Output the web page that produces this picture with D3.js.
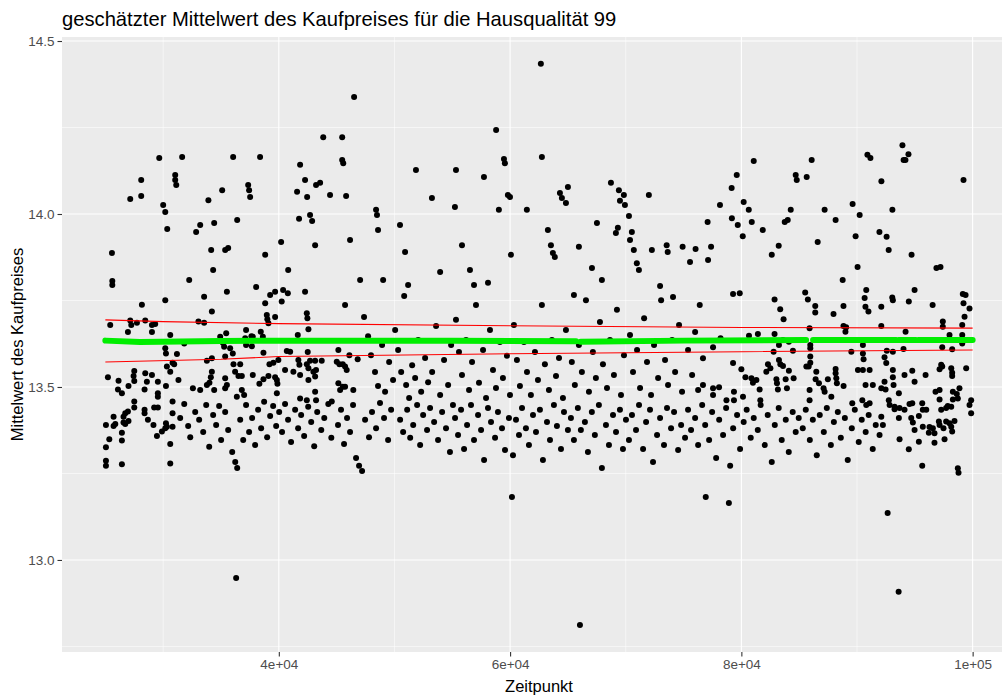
<!DOCTYPE html>
<html>
<head>
<meta charset="utf-8">
<script src="https://cdn.jsdelivr.net/npm/d3@7"></script>
<style>
  body { margin: 0; background: #fff; }
  svg { display: block; font-family: "Liberation Sans", Arial, sans-serif; }
</style>
</head>
<body>
<svg width="1002" height="698"></svg>
<script>
// Beobachtungen: [Zeitpunkt, Mittelwert]
var punkte = [
  [25570,13.887],[25600,13.806],[25600,13.795],
  [28160,13.738],[30180,13.751],[27150,13.692],[28450,13.692],[25420,13.679],[27240,13.679],[27730,13.686],
  [29030,13.679],[29310,13.682],[26950,13.659],[29030,13.659],[30610,13.650],[30180,13.612],[30240,13.597],
  [30810,13.570],[30320,13.559],[30610,13.544],[27500,13.546],[27440,13.532],[27500,13.517],[28450,13.540],
  [28590,13.515],[29030,13.535],[25220,13.528],[26140,13.518],[29540,13.515],[26090,13.493],[26430,13.482],
  [27000,13.503],[28390,13.493],[30240,13.503],[29540,13.482],[29540,13.472],[30810,13.458],[27500,13.458],
  [27500,13.441],[29220,13.441],[29540,13.441],[28390,13.434],[28390,13.424],[26720,13.424],[26950,13.429],
  [26570,13.414],[30810,13.424],[28680,13.405],[25710,13.414],[25050,13.390],[25860,13.393],[25710,13.387],
  [26720,13.393],[26570,13.397],[27000,13.402],[29160,13.390],[30240,13.395],[30320,13.385],[30180,13.381],
  [29890,13.371],[30810,13.385],[26430,13.368],[29460,13.358],[25340,13.349],[26430,13.345],[30610,13.335],
  [25050,13.326],[25050,13.287],[25050,13.272],[26430,13.277],[30610,13.279],
  [33540,13.761],[35510,13.775],[38820,13.742],[39680,13.775],[40780,13.771],[42270,13.775],[40250,13.747],
  [45730,13.737],[34210,13.718],[38960,13.708],[39010,13.696],[39100,13.684],[42420,13.713],[42470,13.699],
  [42560,13.667],[39680,13.702],[33050,13.689],[33540,13.686],[37170,13.665],[37630,13.647],[37750,13.645],
  [38440,13.660],[38620,13.645],[41640,13.650],[34930,13.645],[35450,13.655],[35160,13.628],[35270,13.616],
  [35790,13.612],[36020,13.597],[37090,13.641],[37170,13.621],[37670,13.618],[31190,13.595],[31820,13.626],
  [38670,13.599],[40690,13.604],[40980,13.602],[42500,13.601],[45150,13.607],[46100,13.592],[46820,13.580],
  [30950,13.566],[33780,13.576],[34210,13.583],[35360,13.588],[36080,13.566],[36660,13.566],[39190,13.566],
  [39530,13.570],[39960,13.578],[41690,13.578],[41780,13.564],[42420,13.566],[42700,13.576],[43140,13.576],
  [43710,13.576],[42560,13.554],[43220,13.549],[45240,13.566],[45530,13.566],[45730,13.559],[31320,13.520],
  [34210,13.544],[34120,13.528],[34000,13.512],[35360,13.525],[35510,13.506],[35360,13.496],[36220,13.544],
  [36510,13.532],[36800,13.532],[37750,13.535],[38670,13.522],[39100,13.532],[39680,13.528],[39830,13.520],
  [39880,13.509],[38320,13.509],[40540,13.549],[41260,13.544],[41840,13.535],[42560,13.520],[43140,13.530],
  [42990,13.544],[45010,13.573],[45150,13.511],[45530,13.501],[46440,13.491],[45870,13.549],[32570,13.496],
  [33200,13.491],[33780,13.506],[34410,13.491],[36800,13.491],[37000,13.477],[36370,13.472],[39830,13.482],
  [41840,13.467],[42420,13.462],[43140,13.486],[43220,13.462],[44580,13.458],[45300,13.491],[45730,13.501],
  [79280,13.769],[79860,13.771],[76400,13.737],[82870,13.753],[83360,13.725],[83650,13.696],[85520,13.773],
  [85750,13.753],[86390,13.734],[86390,13.715],[87970,13.711],[88830,13.734],[90730,13.732],[90990,13.718],
  [90800,13.780],[82870,13.653],[81430,13.653],[80660,13.648],[78200,13.641],[85900,13.670],[88830,13.676],
  [89060,13.673],[89000,13.660],[83250,13.621],[84110,13.631],[83600,13.636],[82790,13.602],[84460,13.605],
  [85960,13.621],[85960,13.612],[77550,13.615],[89510,13.602],[90510,13.621],[90510,13.597],[90570,13.580],
  [76680,13.583],[79280,13.569],[80000,13.551],[82300,13.566],[82510,13.554],[82160,13.544],[83250,13.578],
  [83370,13.566],[83600,13.561],[84110,13.547],[85960,13.588],[85960,13.570],[85620,13.559],[85820,13.559],
  [86480,13.544],[88150,13.552],[88150,13.540],[90080,13.549],[90510,13.549],[91090,13.549],[76680,13.506],
  [77550,13.496],[77550,13.477],[78070,13.499],[78710,13.462],[79360,13.486],[79360,13.462],[80350,13.528],
  [80870,13.525],[81000,13.512],[81300,13.520],[81580,13.493],[81640,13.462],[80140,13.472],[83030,13.522],
  [83080,13.511],[83160,13.493],[83830,13.522],[83940,13.496],[84520,13.525],[85900,13.491],[85900,13.462],
  [86420,13.522],[86710,13.511],[87110,13.496],[87200,13.486],[87480,13.522],[87780,13.472],[88210,13.525],
  [88260,13.511],[88840,13.503],[89590,13.453],[90460,13.462],[90740,13.506],[91370,13.506],[90800,13.448],
  [91090,13.453],[99150,13.769],[93050,13.759],
  [93100,13.751],[94480,13.747],[92100,13.732],[99210,13.742],[99730,13.727],[99300,13.703],[97420,13.689],
  [97420,13.674],[99100,13.679],[92100,13.676],[94200,13.660],[98000,13.650],[99100,13.650],[97370,13.615],
  [98230,13.609],[99100,13.626],[94020,13.610],[92580,13.605],[93100,13.602],[92380,13.586],[92530,13.569],
  [97280,13.564],[97140,13.551],[97370,13.559],[93100,13.549],[93100,13.528],[93160,13.506],[94110,13.535],
  [94780,13.547],[94980,13.515],[95930,13.535],[98150,13.554],[98230,13.541],[98230,13.532],[99440,13.554],
  [92380,13.515],[92100,13.496],[92470,13.493],[93620,13.482],[96790,13.486],[97140,13.491],[97140,13.464],
  [98290,13.486],[98630,13.480],[98860,13.496],[98290,13.464],[98720,13.467],[99870,13.462],[99730,13.448],
  [99870,13.424],[92750,13.462],[92820,13.448],[93250,13.443],[93250,13.436],[93680,13.439],[94110,13.434],
  [94540,13.451],[94780,13.453],[95640,13.453],[95690,13.434],[95990,13.434],[95350,13.416],[97280,13.434],
  [97710,13.439],[97850,13.445],[98150,13.443],[92100,13.414],[92240,13.390],[91950,13.361],[93620,13.410],
  [94690,13.410],[94830,13.397],[94980,13.376],[95690,13.385],[96270,13.384],[96560,13.381],[96210,13.368],
  [96700,13.366],[97080,13.400],[97140,13.390],[97710,13.400],[98000,13.395],[98150,13.385],[98230,13.371],
  [97480,13.381],[98430,13.402],[95350,13.342],[96700,13.339],[97570,13.349],[93680,13.349],[94480,13.320],
  [95640,13.272],[98720,13.265],[98780,13.252],
  [36310,12.948],[66040,12.812],[78920,13.165],[92650,13.136],[93600,12.908],[60160,13.182],[76920,13.182],
  [62660,14.434],[46510,14.338],[58790,14.243],[43840,14.222],[45480,14.222],
  [27150,14.043],[28100,14.098],[28100,14.052],[29660,14.162],[30000,14.026],[30180,14.006],[30350,13.957],
  [31040,14.113],[31040,14.098],[31130,14.084],[31640,14.165],[32850,13.948],[33200,13.968],[34150,13.896],
  [34410,13.974],[34320,13.838],[35100,14.069],[35360,13.896],[35620,13.902],[36050,14.165],[37350,14.084],
  [37430,14.069],[37520,14.049],[38380,14.165],[38820,13.882],[39250,13.766],[40370,13.780],[40810,13.838],
  [41840,14.142],[42270,14.098],[42450,14.049],[42700,13.997],[42880,13.980],[43140,13.910],[43220,14.084],
  [43570,14.090],[45820,14.052],[45480,14.156],[45570,14.147],[47030,13.809],[48410,14.012],[48490,13.997],
  [48580,13.954],[51860,14.127],[53240,14.046],[55320,14.127],[56530,13.838],[57740,14.107],[59030,14.012],
  [59470,14.159],[59550,14.147],[59810,14.055],[59990,14.049],[60070,13.882],[61450,14.012],[62750,14.165],
  [63270,13.954],[63700,13.887],[63870,13.876],[64310,14.061],[64480,14.046],[64830,14.032],[65000,14.078],
  [67080,13.844],[67510,13.974],[68720,14.090],[69410,14.069],[69840,14.055],[69930,14.026],[70280,13.994],
  [70530,13.948],[70700,13.896],[70960,13.858],[71140,13.838],[72000,14.055],[72260,13.896],[73540,13.910],
  [73630,13.890],[74920,13.905],[76040,13.899],[77080,13.977],[79160,14.075],[79600,14.113],[80200,14.035],
  [80640,14.012],[81070,14.153],[82630,13.882],[84010,13.983],[84700,14.113],[86080,14.156],[87200,14.012],
  [88150,13.983],[88760,13.809],[89880,13.936],[90230,13.997],[90900,14.171],[91160,14.162],[91940,13.948],
  [92110,14.095],[93060,14.012],[93930,14.199],[94190,14.156],[94450,14.173],[96870,13.844],[97220,13.847],
  [99210,14.098],
  [32250,13.809],[33910,14.040],[36400,13.983],[38040,13.789],[40200,13.919],[41580,14.064],[41750,13.986],
  [44430,14.055],[46160,13.925],[49020,13.809],[50480,13.968],[50920,13.890],[51180,13.795],[53950,13.832],
  [55230,14.020],[55840,13.910],[56880,13.795],[58090,13.801],[63530,13.910],[65520,13.766],[65950,13.905],
  [67940,13.809],[69150,13.945],[69320,13.960],[69500,14.038],[70370,13.925],[72970,13.792],[74090,13.760],
  [75560,13.861],[77120,13.867],[77380,13.905],[78150,14.026],[79180,13.988],[79690,13.968],[80120,13.936],
  [80900,13.977],[81850,13.954],[83230,13.908],[83750,13.977],[84270,14.012],[84790,14.098],[85650,14.107],
  [86600,13.919],[89620,14.029],[90050,13.847],[90660,13.757],[92560,13.934],[92740,13.896],[94030,14.156],
  [94720,13.882],[94980,13.780],[96540,13.737],[99390,13.766],
  [31470,13.410],[31820,13.451],[32160,13.387],[32340,13.355],[32770,13.428],[33110,13.405],[33460,13.370],
  [33720,13.448],[33980,13.327],[34320,13.419],[34580,13.390],[34840,13.445],[35010,13.347],
  [35360,13.428],[35620,13.376],[35970,13.312],[36230,13.283],[36400,13.266],[36660,13.405],[36920,13.347],
  [37170,13.448],[37430,13.370],[37690,13.410],[37950,13.332],[38210,13.434],[38470,13.381],[38730,13.457],
  [38990,13.355],[39250,13.416],[39510,13.445],[39770,13.387],
  [40030,13.428],[40280,13.370],[40540,13.451],[40800,13.405],[41060,13.341],[41410,13.434],[41670,13.381],
  [41930,13.419],[42190,13.358],[42540,13.443],[42800,13.399],[43060,13.329],[43320,13.428],[43670,13.376],
  [43930,13.410],[44280,13.451],[44540,13.353],
  [45120,13.390],[45380,13.434],[45640,13.335],[45900,13.410],[46160,13.370],[46420,13.448],[46680,13.295],
  [46940,13.272],[47200,13.257],[47460,13.405],[47800,13.355],[48060,13.428],[48410,13.381],[48750,13.454],
  [49100,13.410],[49450,13.347],[49710,13.434],
  [47370,13.702],[47720,13.647],[47970,13.592],[48320,13.543],[48580,13.503],[48930,13.621],[49190,13.486],
  [49540,13.572],[49880,13.520],[50060,13.665],
  [50320,13.607],[50580,13.543],[50840,13.763],[51010,13.506],[51270,13.468],[51530,13.563],[51790,13.526],
  [52050,13.636],[52310,13.486],[52650,13.584],[52910,13.514],[53260,13.543],[53600,13.676],[53950,13.477],
  [54290,13.578],[54640,13.506],[54900,13.621],
  [50490,13.405],[50750,13.370],[51100,13.434],[51360,13.353],[51620,13.390],[51960,13.448],[52220,13.332],
  [52480,13.419],[52820,13.376],[53080,13.439],[53430,13.399],[53770,13.347],[54120,13.428],[54460,13.381],
  [54800,13.312],[55060,13.448],
  [55320,13.694],[55580,13.601],[55840,13.535],[56190,13.636],[56450,13.491],[56710,13.572],[57050,13.737],
  [57310,13.512],[57660,13.607],[57920,13.468],[58260,13.665],[58520,13.549],[58780,13.497],[59120,13.630],
  [59380,13.526],[59730,13.590],[59990,13.477],
  [55240,13.410],[55500,13.361],[55760,13.434],[56020,13.321],[56280,13.390],[56620,13.448],[56880,13.347],
  [57230,13.419],[57490,13.376],[57750,13.289],[58090,13.439],[58350,13.399],[58700,13.353],[58950,13.428],
  [59300,13.381],[59560,13.318],[59900,13.410],
  [60330,13.679],[60590,13.578],[60850,13.503],[61200,13.630],[61460,13.543],[61800,13.477],[62150,13.601],
  [62410,13.520],[62750,13.737],[63010,13.566],[63360,13.491],[63620,13.636],[63970,13.532],[64230,13.584],
  [64570,13.468],[64830,13.665],
  [60250,13.303],[60510,13.405],[60770,13.361],[61030,13.439],[61370,13.381],[61630,13.332],[61980,13.419],
  [62240,13.370],[62580,13.434],[62840,13.289],[63190,13.399],[63450,13.347],[63790,13.448],[64050,13.387],
  [64400,13.321],[64660,13.428],[65000,13.376],
  [65340,13.572],[65600,13.506],[65950,13.621],[66210,13.543],[66560,13.751],[66820,13.486],[67160,13.601],
  [67420,13.526],[67770,13.688],[68030,13.566],[68380,13.497],[68640,13.636],[68980,13.535],[69240,13.723],
  [69590,13.477],[69850,13.592],
  [65260,13.410],[65520,13.347],[65860,13.439],[66120,13.376],[66470,13.399],[66730,13.312],[67070,13.428],
  [67330,13.361],[67680,13.448],[67940,13.266],[68290,13.390],[68550,13.332],[68900,13.419],[69160,13.370],
  [69500,13.434],[69760,13.321],[70020,13.405],
  [70370,13.650],[70630,13.543],[70980,13.607],[71240,13.497],[71590,13.699],[71840,13.572],[72190,13.477],
  [72450,13.621],[72800,13.526],[73060,13.751],[73400,13.578],[73660,13.506],[74010,13.636],[74270,13.543],
  [74610,13.679],[74870,13.486],
  [70280,13.347],[70540,13.419],[70890,13.376],[71150,13.448],[71500,13.321],[71760,13.399],[72100,13.434],
  [72360,13.283],[72710,13.361],[72970,13.410],[73310,13.332],[73570,13.439],[73920,13.381],[74180,13.428],
  [74530,13.318],[74790,13.390],[75130,13.353],
  [75390,13.607],[75740,13.535],[76000,13.659],[76260,13.491],
  [75390,13.434],[75650,13.376],[76000,13.410],[76260,13.332],[76610,13.448],[76870,13.390],[77210,13.347],
  [77470,13.428],[77820,13.295],[78080,13.405],[78420,13.361],[78680,13.439],[79030,13.272],[79290,13.381],
  [79630,13.419],[79890,13.321],
  [80200,13.399],[80460,13.434],[80810,13.353],[81070,13.410],[81420,13.376],[81670,13.448],[82020,13.332],
  [82280,13.419],[82630,13.283],[82890,13.390],[83230,13.439],[83490,13.347],[83840,13.405],[84100,13.312],
  [84440,13.428],[84700,13.370],[84960,13.410],
  [85310,13.381],[85570,13.434],[85920,13.347],[86180,13.405],[86520,13.303],[86780,13.419],[87130,13.370],
  [87390,13.439],[87740,13.332],[88000,13.399],[88340,13.428],[88600,13.353],[88950,13.410],[89200,13.289],
  [89550,13.381],[89810,13.434],[90150,13.341],[90410,13.405],[90750,13.370],[91010,13.419],[91360,13.321],
  [91620,13.390]
];

// geschätzter Mittelwert (grün), null = Lücke
var schaetzX = [25000, 28000, 35000, 45000, 55000, 65700, null, 66100, 75000, 85600, null, 86200, 93400, null, 93600, 95100, null, 95300, 100000];
var schaetzY = [13.634, 13.630, 13.633, 13.634, 13.634, 13.632, null, 13.631, 13.634, 13.636, null, 13.636, 13.636, null, 13.636, 13.636, null, 13.636, 13.636];

// Konfidenzgrenzen (rot)
var obenX  = [25000, 30000, 40000, 60000, 80000, 100000];
var obenY  = [13.694, 13.689, 13.683, 13.677, 13.672, 13.670];
var untenX = [25000, 35000, 40000, 60000, 80000, 100000];
var untenY = [13.572, 13.580, 13.588, 13.596, 13.602, 13.607];

var xTicks = [40000, 60000, 80000, 100000];
var xTickLabels = ["4e+04", "6e+04", "8e+04", "1e+05"];
var xMinor = [30000, 50000, 70000, 90000];
var yTicks = [13.0, 13.5, 14.0, 14.5];
var yMinor = [12.75, 13.25, 13.75, 14.25];

var svg = d3.select("svg");
var panel = {left: 62, top: 37, right: 1016, bottom: 652};

var x = d3.scaleLinear().domain([21250, 103750]).range([panel.left, panel.right]);
var y = d3.scaleLinear().domain([12.734, 14.5116]).range([panel.bottom, panel.top]);

svg.append("rect")
   .attr("x", panel.left).attr("y", panel.top)
   .attr("width", panel.right - panel.left).attr("height", panel.bottom - panel.top)
   .attr("fill", "#ebebeb");

var grid = svg.append("g");
grid.selectAll(".ym").data(yMinor).enter().append("line")
    .attr("x1", panel.left).attr("x2", panel.right)
    .attr("y1", function(d) { return y(d); }).attr("y2", function(d) { return y(d); })
    .attr("stroke", "#fff").attr("stroke-width", 0.55);
grid.selectAll(".xm").data(xMinor).enter().append("line")
    .attr("y1", panel.top).attr("y2", panel.bottom)
    .attr("x1", function(d) { return x(d); }).attr("x2", function(d) { return x(d); })
    .attr("stroke", "#fff").attr("stroke-width", 0.55);
grid.selectAll(".yM").data(yTicks).enter().append("line")
    .attr("x1", panel.left).attr("x2", panel.right)
    .attr("y1", function(d) { return y(d); }).attr("y2", function(d) { return y(d); })
    .attr("stroke", "#fff").attr("stroke-width", 1.1);
grid.selectAll(".xM").data(xTicks).enter().append("line")
    .attr("y1", panel.top).attr("y2", panel.bottom)
    .attr("x1", function(d) { return x(d); }).attr("x2", function(d) { return x(d); })
    .attr("stroke", "#fff").attr("stroke-width", 1.1);

// Punkte
svg.append("g").selectAll("circle")
   .data(punkte).enter().append("circle")
   .attr("cx", function(d) { return x(d[0]); })
   .attr("cy", function(d) { return y(d[1]); })
   .attr("r", 3)
   .attr("fill", "#000");

var linie = d3.line()
    .defined(function(d) { return d[0] != null; })
    .x(function(d) { return x(d[0]); })
    .y(function(d) { return y(d[1]); });

// rote Grenzen
[[obenX, obenY], [untenX, untenY]].forEach(function(s) {
  svg.append("path")
     .datum(s[0].map(function(v, i) { return [v, s[1][i]]; }))
     .attr("d", linie)
     .attr("fill", "none")
     .attr("stroke", "#ff0000")
     .attr("stroke-width", 1.1);
});

// grüner Schätzer
svg.append("path")
   .datum(schaetzX.map(function(v, i) { return [v, schaetzY[i]]; }))
   .attr("d", linie)
   .attr("fill", "none")
   .attr("stroke", "#00ee00")
   .attr("stroke-width", 6)
   .attr("stroke-linecap", "round");

// Achsen
var xAxis = d3.axisBottom(x).tickValues(xTicks)
    .tickFormat(function(d, i) { return xTickLabels[i]; })
    .tickSize(4.5).tickPadding(3);
var gx = svg.append("g").attr("transform", "translate(0," + panel.bottom + ")").call(xAxis);
gx.select(".domain").remove();
gx.selectAll("line").attr("stroke", "#333").attr("stroke-width", 1.1);
gx.selectAll("text").attr("fill", "#4d4d4d").style("font-size", "13.5px")
  .attr("font-family", "Liberation Sans, Arial, sans-serif");

var yAxis = d3.axisLeft(y).tickValues(yTicks).tickFormat(d3.format(".1f"))
    .tickSize(4.5).tickPadding(3);
var gy = svg.append("g").attr("transform", "translate(" + panel.left + ",0)").call(yAxis);
gy.select(".domain").remove();
gy.selectAll("line").attr("stroke", "#333").attr("stroke-width", 1.1);
gy.selectAll("text").attr("fill", "#4d4d4d").style("font-size", "13.5px")
  .attr("font-family", "Liberation Sans, Arial, sans-serif");

// Titel
svg.append("text")
   .attr("x", panel.left).attr("y", 26)
   .attr("font-size", "20.2px").attr("fill", "#000")
   .text("geschätzter Mittelwert des Kaufpreises für die Hausqualität 99");

svg.append("text")
   .attr("x", (panel.left + panel.right) / 2).attr("y", 692)
   .attr("text-anchor", "middle")
   .attr("font-size", "16.5px").attr("fill", "#000")
   .text("Zeitpunkt");

svg.append("text")
   .attr("transform", "translate(23," + ((panel.top + panel.bottom) / 2) + ") rotate(-90)")
   .attr("text-anchor", "middle")
   .attr("font-size", "16.5px").attr("fill", "#000")
   .text("Mittelwert des Kaufpreises");
</script>
</body>
</html>
